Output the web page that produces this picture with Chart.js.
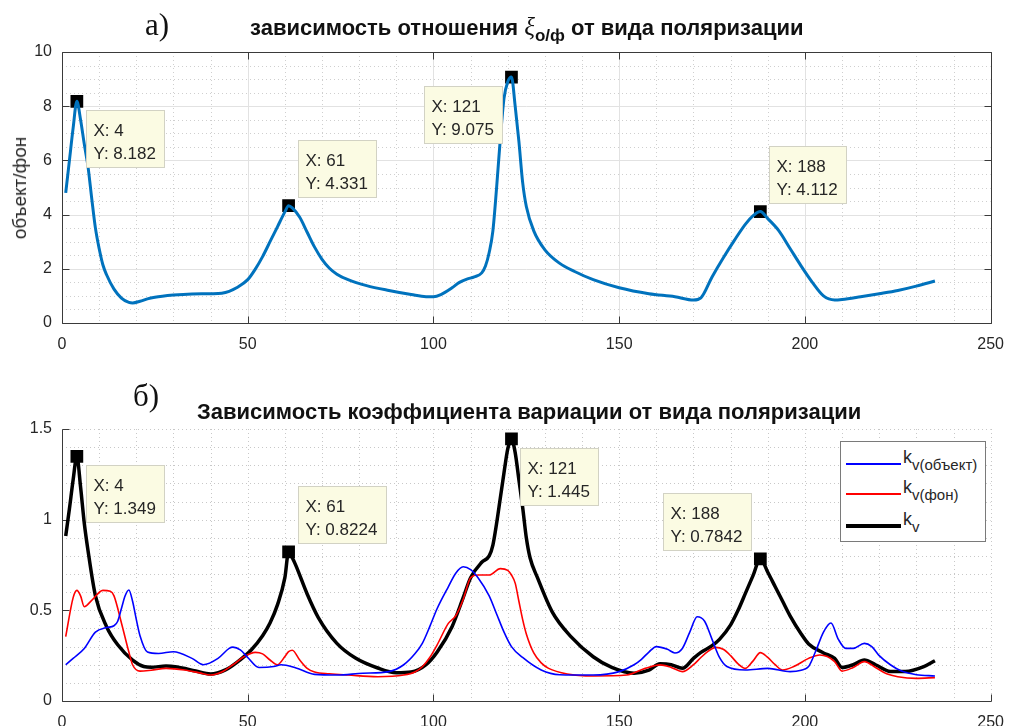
<!DOCTYPE html>
<html lang="ru">
<head>
<meta charset="utf-8">
<title>Поляризация</title>
<script src="https://cdn.jsdelivr.net/npm/chart.js@4.4.0/dist/chart.umd.min.js"></script>
<style>
  html, body { margin: 0; padding: 0; background: #fff; }
  body { width: 1016px; height: 726px; position: relative; overflow: hidden; font-family: Arial, "Liberation Sans", sans-serif; }
  canvas { position: absolute; left: 0; }
  #grafSup { top: 0; }
  #grafInf { top: 360px; }
  .titulo { position: absolute; font-weight: bold; font-size: 22px; line-height: 1; color: #111; white-space: nowrap; }
  .letra { position: absolute; font-family: "Liberation Serif", "Times New Roman", serif; font-size: 31px; line-height: 1; color: #111; }
  .ejeY { position: absolute; left: 20px; top: 188px; font-size: 19px; color: #262626; white-space: nowrap; transform: translate(-50%, -50%) rotate(-90deg); }
  #leyenda { position: absolute; left: 840px; top: 441px; width: 146px; height: 101px; box-sizing: border-box; border: 1px solid #7a7a7a; background: #fff; }
  .fila { position: absolute; left: 5px; height: 26px; }
  .muestra { position: absolute; left: 0; width: 55px; }
  .texto { position: absolute; left: 57px; top: -16px; font-size: 18px; color: #262626; white-space: nowrap; }
  .texto sub { font-size: 15px; vertical-align: -7px; }
</style>
</head>
<body>
<canvas id="grafSup" width="1016" height="360"></canvas>
<canvas id="grafInf" width="1016" height="366"></canvas>

<div class="letra" style="left:145px; top:9px;">а)</div>
<div class="titulo" style="left:250px; top:14px;">зависимость отношения <i style="font-weight:normal; font-family:'Liberation Serif',serif; font-size:25px;">ξ</i><sub style="font-size:17px; vertical-align:-6px;">о/ф</sub> от вида поляризации</div>
<div class="ejeY">объект/фон</div>

<div class="letra" style="left:133px; top:380px;">б)</div>
<div class="titulo" style="left:197px; top:401px;">Зависимость коэффициента вариации от вида поляризации</div>

<div id="leyenda">
  <div class="fila" style="top:21px;"><div class="muestra" style="border-top:2px solid #0000ff;"></div><div class="texto">k<sub>v(объект)</sub></div></div>
  <div class="fila" style="top:51px;"><div class="muestra" style="border-top:2px solid #ff0000;"></div><div class="texto">k<sub>v(фон)</sub></div></div>
  <div class="fila" style="top:82px;"><div class="muestra" style="border-top:4px solid #000;"></div><div class="texto" style="top:-15px;">k<sub>v</sub></div></div>
</div>

<script>
// а) отношение объект/фон
const xRel = [1,2,3,4,5,6,7,8,9,10,11,12,14,16,18,19,21,23,25,27,30,35,40,43,45,47,50,52,54,56,58,60,61,62,64,66,68,70,72,74,77,82,88,94,98,100,102,105,107,109,111,113,114,115,116,117,118,119,120,121,122,123,124,125,127,130,134,138,143,150,158,165,170,172,175,178,181,184,186,188,190,193,196,199,202,205,208,210,215,220,225,230,235];
const yRel = [4.8,6.0,7.2,8.182,7.5,6.6,5.77,4.6,3.5,2.75,2.15,1.78,1.25,0.92,0.76,0.74,0.8,0.89,0.95,0.99,1.03,1.07,1.08,1.1,1.17,1.3,1.6,1.98,2.45,3.0,3.55,4.1,4.331,4.25,3.9,3.35,2.8,2.35,2.02,1.8,1.6,1.38,1.2,1.05,0.97,0.97,1.05,1.3,1.5,1.62,1.7,1.85,2.1,2.6,3.4,5.0,6.8,8.3,8.9,9.075,8.0,6.7,5.2,4.3,3.4,2.7,2.2,1.9,1.6,1.3,1.08,0.97,0.85,0.93,1.7,2.4,3.05,3.65,3.95,4.112,3.85,3.4,2.75,2.1,1.5,1.0,0.85,0.87,0.97,1.08,1.2,1.36,1.55];

// б) коэффициенты вариации
const xObj = [1,3,6,9,12,14,15,16,17,18,19,20,21,23,26,30,35,38,42,45,46,48,50,53,57,59,63,68,74,81,88,92,95,97,99,101,104,106,108,110,112,115,117,119,121,124,129,134,143,150,154,156,158,160,163,165,167,169,171,173,175,177,179,184,190,196,199,201,203,205,207,209,211,213,216,218,220,223,226,230,235];
const yObj = [0.2,0.235,0.29,0.38,0.405,0.415,0.44,0.51,0.58,0.612,0.55,0.45,0.36,0.27,0.262,0.272,0.235,0.2,0.235,0.29,0.297,0.282,0.24,0.185,0.19,0.2,0.182,0.147,0.143,0.153,0.162,0.2,0.26,0.318,0.41,0.51,0.63,0.705,0.74,0.725,0.68,0.58,0.48,0.38,0.3,0.24,0.171,0.145,0.143,0.162,0.2,0.23,0.27,0.3,0.285,0.265,0.29,0.38,0.465,0.44,0.34,0.24,0.19,0.171,0.18,0.162,0.17,0.19,0.28,0.38,0.43,0.34,0.29,0.29,0.318,0.3,0.25,0.2,0.165,0.145,0.138];

const xFon = [1,3,4,5,6,8,11,13,14,16,18,19,21,24,28,33,37,40,43,46,49,52,54,56,58,60,61,62,64,66,68,72,77,85,92,95,97,99,101,104,106,108,110,112,115,118,120,121,122,123,124,125,127,129,131,136,143,152,157,161,164,167,170,172,174,176,178,180,182,184,186,188,190,192,194,197,201,204,206,208,210,213,216,219,222,225,230,235];
const yFon = [0.355,0.57,0.61,0.58,0.52,0.555,0.61,0.605,0.58,0.43,0.27,0.2,0.165,0.17,0.18,0.171,0.155,0.143,0.16,0.2,0.244,0.268,0.26,0.226,0.2,0.245,0.272,0.28,0.226,0.18,0.16,0.15,0.143,0.134,0.143,0.16,0.189,0.24,0.31,0.428,0.47,0.56,0.68,0.695,0.695,0.73,0.72,0.695,0.65,0.55,0.45,0.37,0.265,0.21,0.18,0.149,0.138,0.143,0.18,0.199,0.185,0.162,0.2,0.24,0.275,0.296,0.285,0.25,0.205,0.18,0.22,0.267,0.24,0.2,0.171,0.19,0.235,0.254,0.245,0.217,0.165,0.185,0.217,0.185,0.15,0.134,0.125,0.129];

const xKv = [1,2,3,4,5,6,7,9,12,15,19,22,24,28,31,36,40,44,47,51,54,56,58,60,61,62,63,66,69,74,79,85,90,94,98,101,105,108,110,113,115,116,117,118,119,120,121,122,123,124,125,126,128,132,137,143,148,154,158,161,164,167,170,172,175,177,180,182,184,186,188,190,192,194,196,199,201,205,208,210,213,216,219,223,227,232,235];
const yKv = [0.91,1.06,1.22,1.349,1.18,0.98,0.83,0.58,0.41,0.31,0.225,0.19,0.186,0.193,0.187,0.165,0.149,0.172,0.212,0.283,0.36,0.43,0.53,0.68,0.8224,0.79,0.745,0.59,0.46,0.318,0.237,0.182,0.156,0.16,0.2,0.27,0.41,0.57,0.68,0.765,0.8,0.86,0.98,1.12,1.26,1.39,1.445,1.37,1.22,1.07,0.9,0.79,0.68,0.49,0.355,0.244,0.185,0.153,0.17,0.205,0.2,0.18,0.235,0.268,0.305,0.34,0.42,0.5,0.595,0.69,0.7842,0.71,0.63,0.55,0.47,0.37,0.315,0.265,0.235,0.185,0.2,0.226,0.2,0.163,0.162,0.189,0.222];

// отмеченные точки (X)
const picos = [4, 61, 121, 188];

Chart.defaults.font.family = 'Arial, "Liberation Sans", sans-serif';
Chart.defaults.font.size = 16;
Chart.defaults.color = '#262626';

const puntos = (xs, ys) => xs.map((x, i) => ({ x: x, y: ys[i] }));
const marcas = (xs, ys) => picos.map(p => ({ x: p, y: ys[xs.indexOf(p)] }));
const formato = v => String(Number(v.toPrecision(4)));

// сетка и оси в стиле MATLAB
function ejes(cfg) {
  return {
    id: 'ejes',
    beforeDatasetsDraw(chart) {
      const { ctx, chartArea: a, scales: { x, y } } = chart;
      const px = v => Math.round(x.getPixelForValue(v)) + 0.5;
      const py = v => Math.round(y.getPixelForValue(v)) + 0.5;
      const esMayor = (v, paso) => Math.abs(v / paso - Math.round(v / paso)) < 1e-6;
      ctx.save();
      ctx.lineWidth = 1;
      // вспомогательная сетка
      ctx.setLineDash([1, 3]);
      ctx.strokeStyle = cfg.colorMenor;
      for (let v = x.min + cfg.menorX; v < x.max + 1e-6; v += cfg.menorX) {
        if (cfg.mayorSolida && esMayor(v, cfg.pasoX)) continue;
        ctx.beginPath(); ctx.moveTo(px(v), a.top); ctx.lineTo(px(v), a.bottom); ctx.stroke();
      }
      for (let v = y.min + cfg.menorY; v < y.max + 1e-6; v += cfg.menorY) {
        if (cfg.mayorSolida && esMayor(v, cfg.pasoY)) continue;
        ctx.beginPath(); ctx.moveTo(a.left, py(v)); ctx.lineTo(a.right, py(v)); ctx.stroke();
      }
      // основная сетка
      if (cfg.mayorSolida) {
        ctx.setLineDash([]);
        ctx.strokeStyle = cfg.colorMayor;
        for (let v = x.min + cfg.pasoX; v < x.max; v += cfg.pasoX) {
          ctx.beginPath(); ctx.moveTo(px(v), a.top); ctx.lineTo(px(v), a.bottom); ctx.stroke();
        }
        for (let v = y.min + cfg.pasoY; v < y.max; v += cfg.pasoY) {
          ctx.beginPath(); ctx.moveTo(a.left, py(v)); ctx.lineTo(a.right, py(v)); ctx.stroke();
        }
      }
      // оси и засечки
      ctx.setLineDash([]);
      ctx.strokeStyle = '#3a3a3a';
      const l = px(x.min), r = px(x.max), t = py(y.max), b = py(y.min);
      ctx.beginPath();
      ctx.moveTo(l, t); ctx.lineTo(l, b); ctx.lineTo(r, b);
      if (cfg.caja) { ctx.lineTo(r, t); ctx.lineTo(l, t); }
      for (let v = x.min; v <= x.max + 1e-6; v += cfg.pasoX) {
        ctx.moveTo(px(v), b); ctx.lineTo(px(v), b - 7);
        if (cfg.caja) { ctx.moveTo(px(v), t); ctx.lineTo(px(v), t + 7); }
      }
      for (let v = y.min; v <= y.max + 1e-6; v += cfg.pasoY) {
        ctx.moveTo(l, py(v)); ctx.lineTo(l + 7, py(v));
        if (cfg.caja) { ctx.moveTo(r, py(v)); ctx.lineTo(r - 7, py(v)); }
      }
      ctx.stroke();
      ctx.restore();
    }
  };
}

// подписи отмеченных точек
function etiquetas(lados) {
  return {
    id: 'etiquetas',
    afterDatasetsDraw(chart) {
      const { ctx, scales: { x, y } } = chart;
      const datos = chart.data.datasets[chart.data.datasets.length - 1].data;
      ctx.save();
      ctx.font = '17px Arial, "Liberation Sans", sans-serif';
      datos.forEach((p, i) => {
        const mx = x.getPixelForValue(p.x), my = y.getPixelForValue(p.y);
        const lineas = ['X: ' + p.x, 'Y: ' + formato(p.y)];
        const w = Math.round(Math.max(...lineas.map(s => ctx.measureText(s).width)) + 16);
        const h = 57;
        const lado = lados[i];
        const bx = Math.round(lado[0] === 'r' ? mx + 9 : mx - 9 - w) + 0.5;
        const by = Math.round(lado[1] === 'b' ? my + 9 : my - 9 - h) + 0.5;
        ctx.fillStyle = '#fbfbe3';
        ctx.strokeStyle = '#d2d2c4';
        ctx.lineWidth = 1;
        ctx.fillRect(bx, by, w, h);
        ctx.strokeRect(bx, by, w, h);
        ctx.fillStyle = '#262626';
        ctx.textBaseline = 'alphabetic';
        ctx.fillText(lineas[0], bx + 7, by + 25);
        ctx.fillText(lineas[1], bx + 7, by + 48);
      });
      ctx.restore();
    }
  };
}

function escalas(ymax, pasoY, alturaX) {
  return {
    x: {
      type: 'linear', min: 0, max: 250,
      ticks: { stepSize: 50, padding: 12, maxRotation: 0, callback: v => String(v) },
      grid: { display: false, drawTicks: false },
      border: { display: false },
      afterFit: s => { s.height = alturaX; }
    },
    y: {
      min: 0, max: ymax,
      ticks: { stepSize: pasoY, padding: 10, callback: v => String(v) },
      grid: { display: false, drawTicks: false },
      border: { display: false },
      afterFit: s => { s.width = 62; }
    }
  };
}

const marcador = {
  showLine: false, pointStyle: 'rect', pointRadius: 9, pointHoverRadius: 9,
  backgroundColor: '#000', borderColor: '#000', borderWidth: 0
};

new Chart(document.getElementById('grafSup'), {
  type: 'line',
  data: {
    datasets: [
      { data: puntos(xRel, yRel), borderColor: '#0072bd', borderWidth: 3, pointRadius: 0, cubicInterpolationMode: 'monotone' },
      Object.assign({ data: marcas(xRel, yRel) }, marcador)
    ]
  },
  options: {
    responsive: false, animation: false, events: [],
    layout: { padding: { left: 0, right: 15, top: 52, bottom: 0 } },
    plugins: { legend: { display: false }, tooltip: { enabled: false } },
    scales: escalas(10, 2, 37)
  },
  plugins: [
    ejes({ caja: true, mayorSolida: true, pasoX: 50, pasoY: 2, menorX: 10, menorY: 0.5, colorMayor: '#e2e2e2', colorMenor: '#cfcfcf' }),
    etiquetas(['rb', 'ra', 'lb', 'ra'])
  ]
});

new Chart(document.getElementById('grafInf'), {
  type: 'line',
  data: {
    datasets: [
      { data: puntos(xObj, yObj), borderColor: '#0000ff', borderWidth: 1.6, pointRadius: 0, cubicInterpolationMode: 'monotone' },
      { data: puntos(xFon, yFon), borderColor: '#ff0000', borderWidth: 1.6, pointRadius: 0, cubicInterpolationMode: 'monotone' },
      { data: puntos(xKv, yKv), borderColor: '#000', borderWidth: 3.5, pointRadius: 0, cubicInterpolationMode: 'monotone' },
      Object.assign({ data: marcas(xKv, yKv) }, marcador)
    ]
  },
  options: {
    responsive: false, animation: false, events: [],
    layout: { padding: { left: 0, right: 15, top: 69, bottom: 0 } },
    plugins: { legend: { display: false }, tooltip: { enabled: false } },
    scales: escalas(1.5, 0.5, 25)
  },
  plugins: [
    ejes({ caja: false, mayorSolida: false, pasoX: 50, pasoY: 0.5, menorX: 10, menorY: 0.1, colorMayor: '#c8c8c8', colorMenor: '#c8c8c8' }),
    etiquetas(['rb', 'ra', 'rb', 'la'])
  ]
});
</script>
</body>
</html>
